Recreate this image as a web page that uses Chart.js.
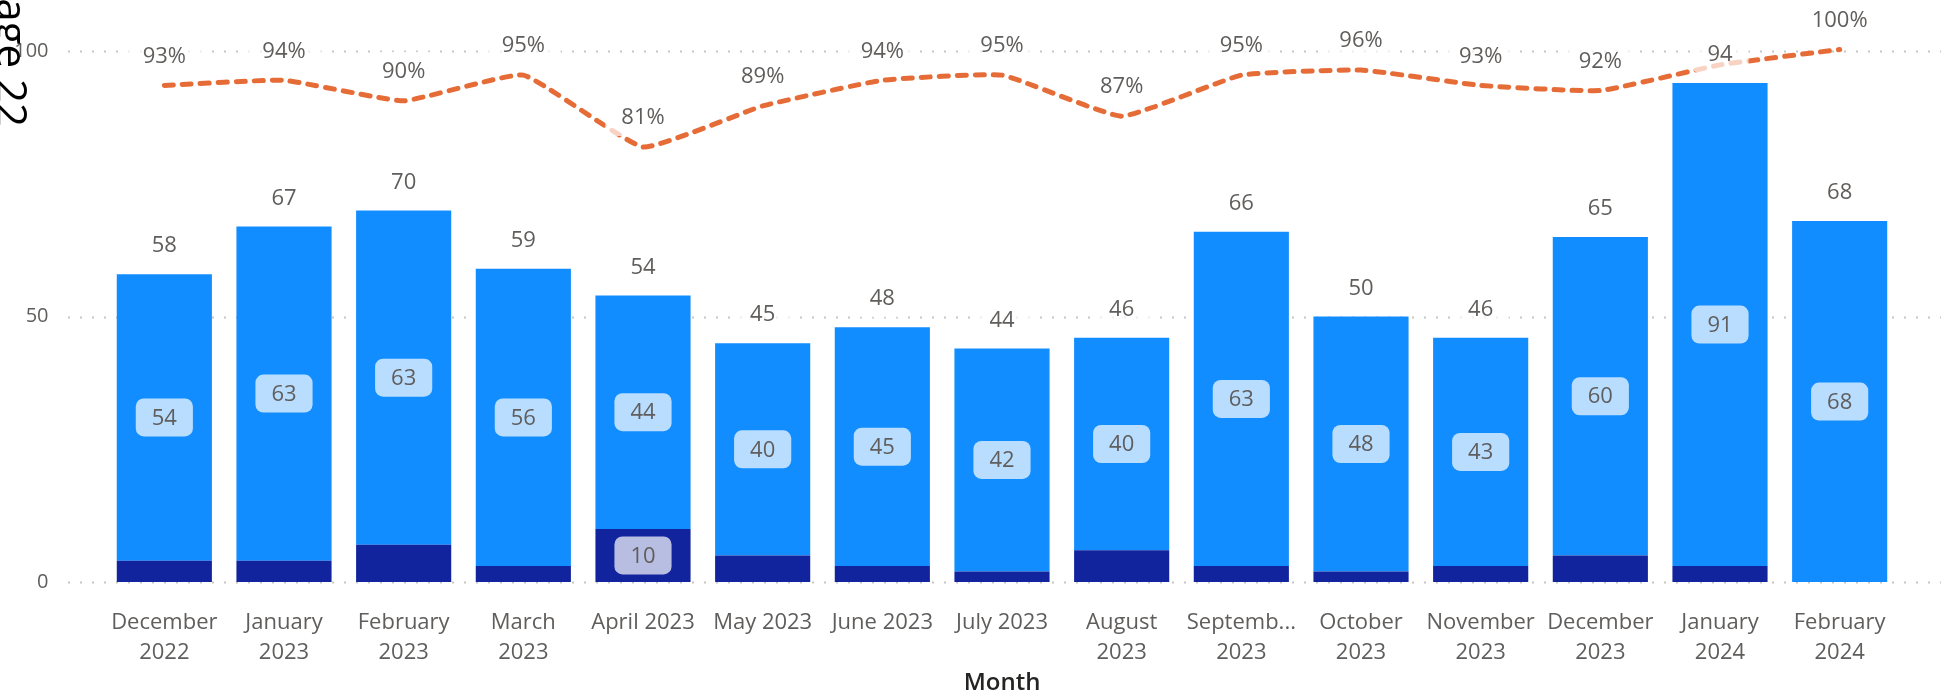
<!DOCTYPE html>
<html>
<head>
<meta charset="utf-8">
<script src="https://cdn.jsdelivr.net/npm/chart.js@4.4.1/dist/chart.umd.min.js"></script>
<style>
  html, body { margin: 0; padding: 0; background: #fff; overflow: hidden; }
</style>
</head>
<body>
<canvas id="chart" width="1941" height="700"></canvas>
<script>
// --- data ---
const months = [
  ["December", "2022"], ["January", "2023"], ["February", "2023"], ["March", "2023"],
  "April 2023", "May 2023", "June 2023", "July 2023",
  ["August", "2023"], ["Septemb...", "2023"], ["October", "2023"], ["November", "2023"],
  ["December", "2023"], ["January", "2024"], ["February", "2024"]
];
const lowerCounts = [4, 4, 7, 3, 10, 5, 3, 2, 6, 3, 2, 3, 5, 3, 0];
const upperCounts = [54, 63, 63, 56, 44, 40, 45, 42, 40, 63, 48, 43, 60, 91, 68];
const pctValues = [93, 94, 90, 95, 81, 89, 94, 95, 87, 95, 96, 93, 92, 97, 100];
const yTicks = [0, 50, 100];
const pageLabel = "Page 22";

const FONT = "'Open Sans', 'Segoe UI', sans-serif";
const GREY = "#605E5C";
Chart.defaults.font.family = FONT;

function roundRect(ctx, x, y, w, h, r) {
  ctx.beginPath();
  ctx.moveTo(x + r, y);
  ctx.arcTo(x + w, y, x + w, y + h, r);
  ctx.arcTo(x + w, y + h, x, y + h, r);
  ctx.arcTo(x, y + h, x, y, r);
  ctx.arcTo(x, y, x + w, y, r);
  ctx.closePath();
}

function overlaps(a, b) {
  return a.x < b.x + b.w && b.x < a.x + a.w && a.y < b.y + b.h && b.y < a.y + a.h;
}

// dotted horizontal gridlines, wider than the plot area
const gridPlugin = {
  id: "dotGrid",
  beforeDatasetsDraw(chart) {
    const ctx = chart.ctx;
    const y = chart.scales.y;
    ctx.save();
    ctx.strokeStyle = "#C8C6C4";
    ctx.lineWidth = 2;
    ctx.setLineDash([2, 10]);
    yTicks.forEach((v) => {
      const py = Math.round(y.getPixelForValue(v)) + 0.5;
      ctx.beginPath();
      ctx.moveTo(68, py);
      ctx.lineTo(chart.width, py);
      ctx.stroke();
    });
    ctx.restore();
  }
};

// data labels (inner boxes, totals, percentages)
const labelPlugin = {
  id: "labels",
  afterDatasetsDraw(chart) {
    const ctx = chart.ctx;
    const boxH = 38, padX = 16;
    const taken = [];
    ctx.save();
    ctx.font = "22px " + FONT;
    ctx.textAlign = "center";
    ctx.textBaseline = "middle";

    const drawBox = (text, cx, cy) => {
      const w = ctx.measureText(text).width + padX * 2;
      const rect = { x: cx - w / 2, y: cy - boxH / 2, w: w, h: boxH };
      ctx.fillStyle = "rgba(255,255,255,0.7)";
      roundRect(ctx, rect.x, rect.y, rect.w, rect.h, 8);
      ctx.fill();
      ctx.fillStyle = GREY;
      ctx.fillText(text, cx, cy + 1);
      return rect;
    };

    // inside labels for both stacked segments
    [0, 1].forEach((di) => {
      const meta = chart.getDatasetMeta(di);
      const vals = chart.data.datasets[di].data;
      meta.data.forEach((bar, i) => {
        const h = Math.abs(bar.base - bar.y);
        if (vals[i] > 0 && h >= boxH) {
          drawBox(String(vals[i]), bar.x, (bar.y + bar.base) / 2);
        }
      });
    });

    // totals above bars
    const topMeta = chart.getDatasetMeta(1);
    const y = chart.scales.y;
    topMeta.data.forEach((bar, i) => {
      const total = lowerCounts[i] + upperCounts[i];
      const py = y.getPixelForValue(total) - 29;
      taken.push(drawBox(String(total), bar.x, py));
    });

    // percentage labels, skipped where they collide with a total
    const lineMeta = chart.getDatasetMeta(2);
    lineMeta.data.forEach((pt, i) => {
      const text = pctValues[i] + "%";
      const w = ctx.measureText(text).width + padX * 2;
      const cy = pt.y - 30;
      const rect = { x: pt.x - w / 2, y: cy - boxH / 2, w: w, h: boxH };
      if (taken.some((r) => overlaps(r, rect))) return;
      drawBox(text, pt.x, cy);
    });
    ctx.restore();
  },
  afterDraw(chart) {
    // rotated page caption clipped at the left edge
    const ctx = chart.ctx;
    ctx.save();
    ctx.translate(-3, 127);
    ctx.rotate(Math.PI / 2);
    ctx.font = "42px " + FONT;
    ctx.fillStyle = "#000";
    ctx.textAlign = "right";
    ctx.textBaseline = "alphabetic";
    ctx.fillText(pageLabel, 0, 0);
    ctx.restore();
  }
};

new Chart(document.getElementById("chart").getContext("2d"), {
  type: "bar",
  data: {
    labels: months,
    datasets: [
      {
        label: "Lower",
        data: lowerCounts,
        backgroundColor: "#12239E",
        barPercentage: 0.795,
        categoryPercentage: 1,
        order: 1
      },
      {
        label: "Upper",
        data: upperCounts,
        backgroundColor: "#118DFF",
        barPercentage: 0.795,
        categoryPercentage: 1,
        order: 1
      },
      {
        type: "line",
        label: "Percent",
        data: pctValues,
        yAxisID: "y2",
        borderColor: "#E66C37",
        borderWidth: 5,
        borderDash: [9, 9],
        borderCapStyle: "round",
        pointRadius: 0,
        tension: 0.12,
        order: 0
      }
    ]
  },
  options: {
    responsive: false,
    animation: false,
    layout: { padding: { top: 30, right: 41.5, left: 0, bottom: 0 } },
    plugins: { legend: { display: false }, tooltip: { enabled: false } },
    scales: {
      x: {
        stacked: true,
        offset: true,
        grid: { display: false, drawTicks: false },
        border: { display: false },
        ticks: {
          color: GREY,
          font: { size: 22, lineHeight: 1.364 },
          padding: 26,
          autoSkip: false,
          maxRotation: 0,
          minRotation: 0
        },
        title: {
          display: true,
          text: "Month",
          color: "#252423",
          font: { size: 24, weight: "600" },
          padding: { top: 1, bottom: 2 }
        },
        afterFit: (s) => { s.height = 118; }
      },
      y: {
        stacked: true,
        min: 0,
        max: 104,
        grid: { display: false, drawTicks: false },
        border: { display: false },
        ticks: { stepSize: 50, color: GREY, font: { size: 20 }, padding: 56 },
        afterBuildTicks: (s) => { s.ticks = yTicks.map((v) => ({ value: v })); },
        afterFit: (s) => {
          s.width = 104.5;
          s.paddingTop = 0;
          s.paddingBottom = 0;
        }
      },
      y2: {
        display: false,
        min: -3.8,
        max: 103.8
      }
    }
  },
  plugins: [gridPlugin, labelPlugin]
});
</script>
</body>
</html>
